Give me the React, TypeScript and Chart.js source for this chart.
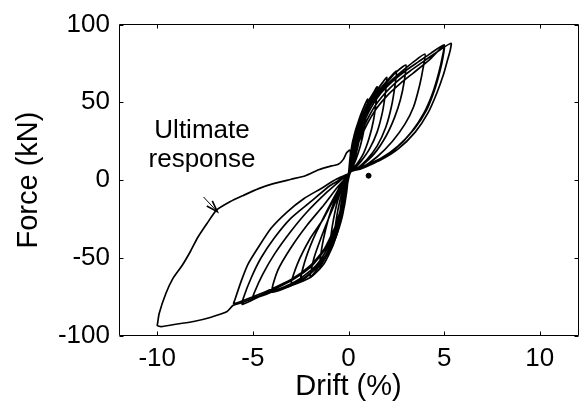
import React, { useEffect, useRef } from "react";
import { Chart, registerables } from "chart.js";

Chart.register(...registerables);

// Axis ticks
const xTicks = [-10, -5, 0, 5, 10];
const yTicks = [-100, -50, 0, 50, 100];

// Cyclic test: [drift %, force kN], one array per amplitude level (positive half then negative half)
const cyc025 = [[0, 4], [0.1, 14], [0.25, 22], [0.22, 16], [0.13, 9], [0, 4], [-0.1, -4], [-0.25, -14], [-0.2, -8], [-0.1, -2], [0, 4]];
const cyc05 = [[0.08, 14], [0.22, 25], [0.38, 31], [0.5, 34], [0.45, 27], [0.33, 18], [0.18, 10], [0.02, 5], [-0.08, -6], [-0.22, -17], [-0.38, -24], [-0.5, -28], [-0.44, -20], [-0.32, -11], [-0.16, -3], [0, 4]];
const cyc075 = [[0.1, 16], [0.3, 29], [0.5, 37], [0.65, 41], [0.75, 44], [0.7, 37], [0.58, 27], [0.4, 17], [0.18, 9], [0.02, 5], [-0.1, -8], [-0.3, -22], [-0.5, -31], [-0.65, -35], [-0.75, -38], [-0.68, -29], [-0.55, -19], [-0.36, -9], [-0.15, -1], [0, 4]];
const cyc1 = [[0.1, 15], [0.3, 28], [0.55, 39], [0.8, 47], [1, 52], [0.94, 44], [0.82, 33], [0.62, 22], [0.38, 13], [0.12, 6], [0, 4.5], [-0.1, -7], [-0.3, -22], [-0.55, -33], [-0.8, -41], [-1, -46], [-0.92, -36], [-0.78, -25], [-0.56, -13], [-0.3, -4], [0, 4]];
const cyc15 = [[0.12, 15], [0.35, 28], [0.7, 41], [1.05, 51], [1.3, 56], [1.5, 60], [1.44, 50], [1.3, 38], [1.08, 27], [0.78, 17], [0.42, 10], [0.1, 5.5], [-0.12, -7], [-0.35, -24], [-0.65, -36], [-0.95, -45], [-1.25, -51], [-1.5, -56], [-1.4, -44], [-1.2, -32], [-0.9, -19], [-0.55, -8], [-0.2, 0], [0, 4]];
const cyc2 = [[0.12, 15], [0.4, 29], [0.8, 43], [1.15, 52], [1.5, 58], [1.8, 63], [2, 66], [1.93, 56], [1.78, 44], [1.5, 31], [1.1, 20], [0.65, 12], [0.2, 6], [0, 4.5], [-0.13, -8], [-0.4, -26], [-0.75, -39], [-1.1, -48], [-1.5, -55], [-2, -62.5], [-1.8, -50], [-1.4, -36], [-0.95, -22], [-0.5, -9], [0, 4]];
const cyc25 = [[0.13, 15], [0.45, 30], [0.9, 44], [1.3, 53], [1.75, 60], [2.1, 65], [2.5, 70], [2.42, 60], [2.24, 47], [1.95, 34], [1.5, 22], [0.95, 13], [0.35, 6.5], [0, 4.5], [-0.14, -8], [-0.45, -27], [-0.85, -41], [-1.25, -50], [-1.8, -58], [-2.5, -65], [-2.3, -53], [-1.85, -38], [-1.3, -24], [-0.75, -11], [-0.3, -1], [0, 4]];
const cyc3 = [[0.14, 15], [0.5, 31], [0.95, 45], [1.4, 54], [1.95, 62], [2.45, 69], [3, 74], [2.92, 64], [2.72, 52], [2.4, 40], [1.95, 28], [1.35, 17], [0.65, 9], [0.1, 5], [-0.15, -9], [-0.5, -28], [-0.95, -43], [-1.4, -52], [-2.1, -61], [-3, -67.5], [-2.68, -54.2], [-1.99, -37.3], [-1.3, -24.7], [-0.8, -13], [-0.35, -3], [0, 4]];
const cyc4 = [[0.15, 15], [0.55, 31], [1.05, 46], [1.55, 55], [2.15, 63], [2.8, 70], [3.4, 76], [4, 81], [3.9, 72], [3.72, 61], [3.4, 47], [2.95, 36], [2.3, 25], [1.5, 15], [0.7, 8], [0.1, 5], [-0.17, -9], [-0.55, -29], [-1.0, -44], [-1.5, -54], [-2.3, -63], [-3.1, -68.5], [-4, -72], [-3.71, -58.4], [-3.02, -43.7], [-2.16, -28.9], [-1.3, -16.2], [-0.6, -5], [0, 4]];
const cyc5 = [[0.16, 15], [0.6, 31], [1.15, 46], [1.7, 56], [2.35, 64], [3, 70.5], [3.65, 76], [4.3, 81.5], [5, 87], [4.92, 80], [4.72, 69], [4.4, 56], [3.94, 43], [3.3, 31], [2.45, 20], [1.5, 12], [0.6, 7], [0.05, 5], [-0.2, -10], [-0.6, -30], [-1.1, -44], [-1.7, -55], [-2.6, -64], [-3.6, -70], [-5, -76], [-4.91, -72], [-4.48, -60.5], [-3.88, -47.8], [-3.02, -33.1], [-2.16, -20.4], [-1.13, -7.8], [-0.4, 0], [0, 4]];
const cyc55 = [[0.17, 14], [0.65, 30], [1.25, 45], [1.85, 55], [2.5, 63], [3.2, 70], [4, 77], [4.7, 83], [5.36, 88], [5.31, 83], [5.15, 76], [4.97, 68], [4.62, 56], [4.15, 43], [3.5, 31], [2.6, 20], [1.7, 13], [0.9, 9], [0.15, 6], [0, 4.5], [-0.22, -11], [-0.65, -30], [-1.2, -44], [-1.9, -55], [-2.9, -64], [-4, -71], [-5.55, -80], [-5.5, -76], [-5.08, -62.7], [-4.57, -50], [-3.88, -37.3], [-3.02, -24.7], [-1.99, -14.1], [-0.96, -3.5], [0, 4]];
const cyc6 = [[0.18, 13], [0.7, 29], [1.35, 44], [2.0, 54], [2.7, 62], [3.4, 69], [4.2, 77], [5, 86.5], [4.94, 79], [4.78, 70], [4.5, 58], [4.08, 45], [3.45, 33], [2.6, 22], [1.7, 14], [0.8, 9], [0.1, 5.5], [-0.25, -12], [-0.7, -30], [-1.3, -45], [-2.0, -55], [-3.0, -64], [-4.2, -71], [-5.2, -76], [-6, -79.5], [-5.94, -77], [-5.6, -64.7], [-5.26, -54.2], [-4.74, -43.7], [-4.05, -31], [-3.2, -20.4], [-2.34, -12], [-1.47, -5.7], [-0.62, 0.6], [0, 4]];

// Ultimate response
const ultimate = [[0, 4], [-0.19, -7.8], [-0.44, -26.8], [-0.79, -41.5], [-1.3, -54.2], [-2, -62.7], [-3.02, -68], [-4.4, -73.2], [-5.5, -78.5], [-6.03, -80.6], [-6.37, -84.8], [-7.23, -88.4], [-8.1, -91], [-8.95, -92.6], [-9.8, -94.3], [-10, -93.5], [-9.98, -92], [-9.9, -85.8], [-9.55, -73], [-9.2, -63.7], [-8.7, -55], [-8.26, -45.8], [-7.9, -37.3], [-7.4, -28], [-6.9, -19.4], [-6.2, -14], [-5.5, -9.9], [-4.7, -5.5], [-3.97, -2.5], [-3, 0.5], [-2.25, 2.8], [-1.56, 6.6], [-0.88, 9.1], [-0.53, 10.1], [-0.27, 13.3], [-0.1, 17.5], [0.07, 19.2], [0.12, 15], [0.1, 10]];

// Isolated point
const dot = [[1.05, 2.8]];

// Annotation
const noteLines = ["Ultimate", "response"];
const noteAnchor = { x: -7.66, y: [27, 8.7] };
const arrowFrom = { x: -7.58, y: -10.9 };
const arrowTo = { x: -6.86, y: -20.4 };

const FONT = "'Liberation Sans', Arial, Helvetica, sans-serif";

const toXY = (arr: number[][]) => arr.map(([x, y]) => ({ x, y }));

const framePlugin = {
  id: "frame",
  afterDatasetsDraw(chart: any) {
    const { ctx, chartArea: a, scales } = chart;
    const xs = scales.x;
    const ys = scales.y;
    ctx.save();
    ctx.strokeStyle = "#000";
    ctx.lineWidth = 1;
    const L = Math.floor(a.left) + 0.5;
    const R = Math.floor(a.right) + 0.5;
    const T = Math.floor(a.top) + 0.5;
    const B = Math.floor(a.bottom) + 0.5;
    ctx.beginPath();
    ctx.rect(L, T, R - L, B - T);
    ctx.stroke();
    const tl = 4;
    ctx.beginPath();
    for (const v of xTicks) {
      const px = Math.round(xs.getPixelForValue(v)) + 0.5;
      ctx.moveTo(px, B);
      ctx.lineTo(px, B - tl);
      ctx.moveTo(px, T);
      ctx.lineTo(px, T + tl);
    }
    for (const v of yTicks) {
      const py = Math.round(ys.getPixelForValue(v)) + 0.5;
      ctx.moveTo(L, py);
      ctx.lineTo(L + tl, py);
      ctx.moveTo(R, py);
      ctx.lineTo(R - tl, py);
    }
    ctx.stroke();

    // annotation text
    ctx.fillStyle = "#000";
    ctx.font = `26px ${FONT}`;
    ctx.textAlign = "center";
    ctx.textBaseline = "alphabetic";
    noteLines.forEach((t, i) => {
      ctx.fillText(t, xs.getPixelForValue(noteAnchor.x), ys.getPixelForValue(noteAnchor.y[i]));
    });

    // arrow
    const x0 = xs.getPixelForValue(arrowFrom.x);
    const y0 = ys.getPixelForValue(arrowFrom.y);
    const x1 = xs.getPixelForValue(arrowTo.x);
    const y1 = ys.getPixelForValue(arrowTo.y);
    const ang = Math.atan2(y1 - y0, x1 - x0);
    ctx.lineWidth = 1;
    ctx.beginPath();
    ctx.moveTo(x0, y0);
    ctx.lineTo(x1, y1);
    ctx.stroke();
    const hl = 12;
    const ha = 0.32;
    ctx.lineWidth = 1.6;
    ctx.beginPath();
    ctx.moveTo(x1 - hl * Math.cos(ang - ha), y1 - hl * Math.sin(ang - ha));
    ctx.lineTo(x1, y1);
    ctx.lineTo(x1 - hl * Math.cos(ang + ha), y1 - hl * Math.sin(ang + ha));
    ctx.stroke();
    ctx.restore();
  },
};

export default function App() {
  const ref = useRef<HTMLCanvasElement | null>(null);
  useEffect(() => {
    if (!ref.current) return;
    Chart.defaults.color = "#000";
    Chart.defaults.font.family = FONT;
    const loops = [cyc025, cyc05, cyc075, cyc1, cyc15, cyc2, cyc25, cyc3, cyc4, cyc5, cyc55, cyc6].flat();
    const lineStyle = {
      showLine: true,
      borderColor: "#000",
      borderWidth: 1.7,
      pointRadius: 0,
      tension: 0.2,
      fill: false,
    };
    const chart = new Chart(ref.current, {
      type: "scatter",
      data: {
        datasets: [
          { ...lineStyle, data: toXY(loops) },
          { ...lineStyle, data: toXY(ultimate) },
          { data: toXY(dot), pointRadius: 2.5, backgroundColor: "#000", borderColor: "#000", showLine: false },
        ],
      },
      options: {
        animation: false,
        responsive: false,
        devicePixelRatio: 1,
        layout: { padding: { top: 20.5, right: 0.5, bottom: 0, left: 0 } },
        plugins: { legend: { display: false }, tooltip: { enabled: false } },
        scales: {
          x: {
            type: "linear",
            min: -12,
            max: 12,
            afterBuildTicks: (s: any) => {
              s.ticks = xTicks.map((v) => ({ value: v }));
            },
            afterFit: (s: any) => {
              s.height = 73.5;
            },
            grid: { display: false, drawTicks: false },
            border: { display: false },
            ticks: { padding: 8, color: "#000", font: { family: FONT, size: 26 }, callback: (v: any) => String(v), maxRotation: 0 },
            title: { display: true, text: "Drift (%)", color: "#000", font: { family: FONT, size: 29 }, padding: { top: 0, bottom: 5 } },
          },
          y: {
            type: "linear",
            min: -100,
            max: 100,
            afterBuildTicks: (s: any) => {
              s.ticks = yTicks.map((v) => ({ value: v }));
            },
            afterFit: (s: any) => {
              s.width = 119;
            },
            grid: { display: false, drawTicks: false },
            border: { display: false },
            ticks: { padding: 9, color: "#000", font: { family: FONT, size: 26 }, callback: (v: any) => String(v) },
            title: { display: true, text: "Force (kN)", color: "#000", font: { family: FONT, size: 29 }, padding: { top: 12, bottom: 0 } },
          },
        },
      },
      plugins: [framePlugin],
    });
    return () => chart.destroy();
  }, []);
  return (
    <div style={{ position: "absolute", left: 0, top: 0, width: 583, height: 409, background: "#fff" }}>
      <canvas ref={ref} width={583} height={409} />
    </div>
  );
}
